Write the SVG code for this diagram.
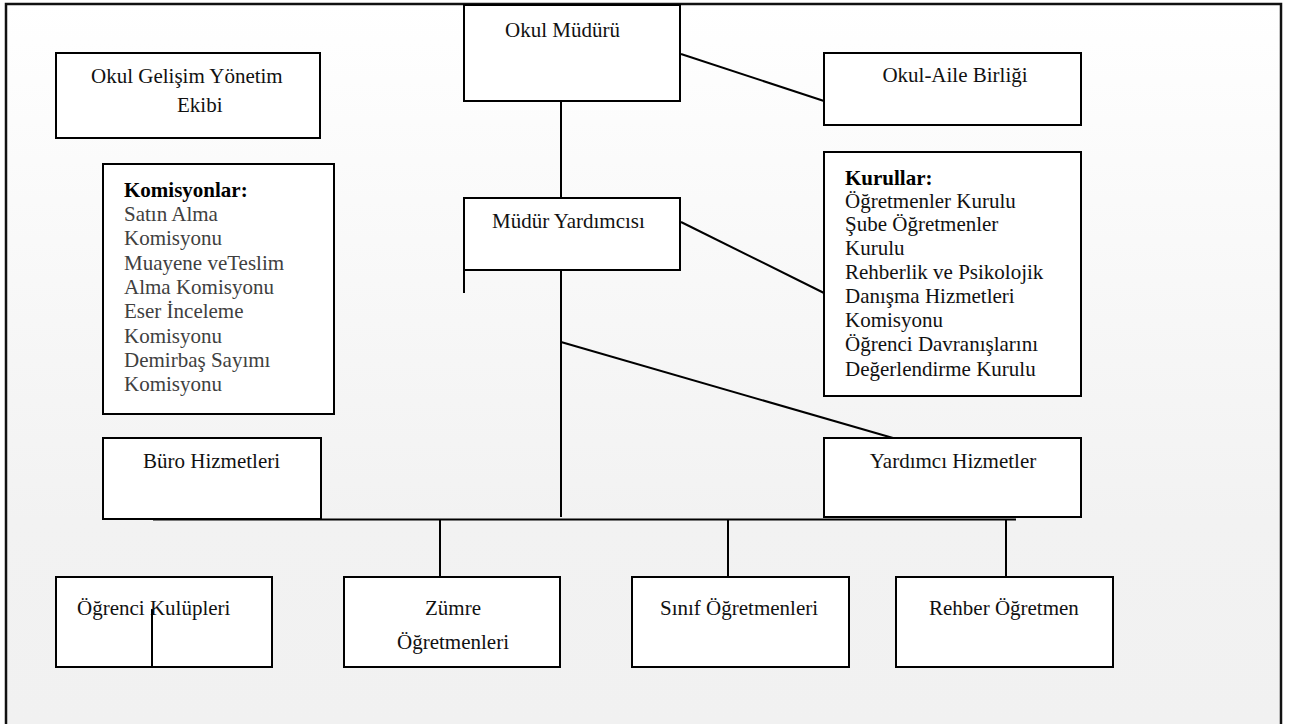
<svg xmlns="http://www.w3.org/2000/svg" width="1295" height="724" viewBox="0 0 1295 724">
<defs>
<linearGradient id="bg" x1="0" y1="0" x2="0" y2="724" gradientUnits="userSpaceOnUse">
<stop offset="0" stop-color="#ffffff"/>
<stop offset="0.72" stop-color="#f2f2f2"/>
<stop offset="1" stop-color="#f1f1f1"/>
</linearGradient>
<style>
.box{fill:#ffffff;stroke:#000;stroke-width:2}
.ln{stroke:#000;stroke-width:2;fill:none}
text{font-family:"Liberation Serif","Times New Roman",serif;font-size:21px;fill:#111}
.b{font-weight:bold;fill:#000}
.g{fill:#404040}
.c{text-anchor:middle}
</style>
</defs>
<rect x="0" y="0" width="1295" height="724" fill="#ffffff"/>
<rect x="6" y="4" width="1275" height="740" fill="url(#bg)" stroke="#111" stroke-width="2.5"/>

<g id="connectors">
<line class="ln" x1="681" y1="54" x2="824" y2="101"/>
<line class="ln" x1="561" y1="101" x2="561" y2="198"/>
<line class="ln" x1="681" y1="222" x2="824" y2="293"/>
<line class="ln" x1="464" y1="270" x2="464" y2="293"/>
<line class="ln" x1="561" y1="270" x2="561" y2="517"/>
<line class="ln" x1="561" y1="342" x2="893" y2="438"/>
<line class="ln" x1="153" y1="519.5" x2="1016" y2="519.5"/>
<line class="ln" x1="440" y1="519" x2="440" y2="577"/>
<line class="ln" x1="728" y1="519" x2="728" y2="577"/>
<line class="ln" x1="1006" y1="519" x2="1006" y2="577"/>
</g>

<g id="okul-gelisim">
<rect class="box" x="56" y="53" width="264" height="85"/>
<text x="91" y="83">Okul Gelişim Yönetim</text>
<text x="177" y="112">Ekibi</text>
</g>

<g id="okul-muduru">
<rect class="box" x="464" y="5" width="216" height="96"/>
<text x="505" y="37">Okul Müdürü</text>
</g>

<g id="okul-aile">
<rect class="box" x="824" y="53" width="257" height="72"/>
<text class="c" x="955" y="82">Okul-Aile Birliği</text>
</g>

<g id="komisyonlar">
<rect class="box" x="103" y="164" width="231" height="250"/>
<text class="b" x="124" y="197">Komisyonlar:</text>
<text class="g" x="124" y="221">Satın Alma</text>
<text class="g" x="124" y="245">Komisyonu</text>
<text class="g" x="124" y="270">Muayene veTeslim</text>
<text class="g" x="124" y="294">Alma Komisyonu</text>
<text class="g" x="124" y="318">Eser İnceleme</text>
<text class="g" x="124" y="343">Komisyonu</text>
<text class="g" x="124" y="367">Demirbaş Sayımı</text>
<text class="g" x="124" y="391">Komisyonu</text>
</g>

<g id="mudur-yardimcisi">
<rect class="box" x="464" y="198" width="216" height="72"/>
<text x="492" y="228">Müdür Yardımcısı</text>
</g>

<g id="kurullar">
<rect class="box" x="824" y="152" width="257" height="244"/>
<text class="b" x="845" y="185">Kurullar:</text>
<text x="845" y="208">Öğretmenler Kurulu</text>
<text x="845" y="231">Şube Öğretmenler</text>
<text x="845" y="255">Kurulu</text>
<text x="845" y="279">Rehberlik ve Psikolojik</text>
<text x="845" y="303">Danışma Hizmetleri</text>
<text x="845" y="327">Komisyonu</text>
<text x="845" y="351">Öğrenci Davranışlarını</text>
<text x="845" y="376">Değerlendirme Kurulu</text>
</g>

<g id="buro-hizmetleri">
<rect class="box" x="103" y="438" width="218" height="81"/>
<text x="143" y="468">Büro Hizmetleri</text>
</g>

<g id="yardimci-hizmetler">
<rect class="box" x="824" y="438" width="257" height="79"/>
<text class="c" x="953" y="468">Yardımcı Hizmetler</text>
</g>

<g id="ogrenci-kulupleri">
<rect class="box" x="56" y="577" width="216" height="90"/>
<text x="77" y="615">Öğrenci Kulüpleri</text>
<line class="ln" x1="152" y1="609" x2="152" y2="667"/>
</g>

<g id="zumre">
<rect class="box" x="344" y="577" width="216" height="90"/>
<text class="c" x="453" y="615">Zümre</text>
<text class="c" x="453" y="649">Öğretmenleri</text>
</g>

<g id="sinif">
<rect class="box" x="632" y="577" width="217" height="90"/>
<text x="660" y="615">Sınıf Öğretmenleri</text>
</g>

<g id="rehber">
<rect class="box" x="896" y="577" width="217" height="90"/>
<text x="929" y="615">Rehber Öğretmen</text>
</g>
</svg>
